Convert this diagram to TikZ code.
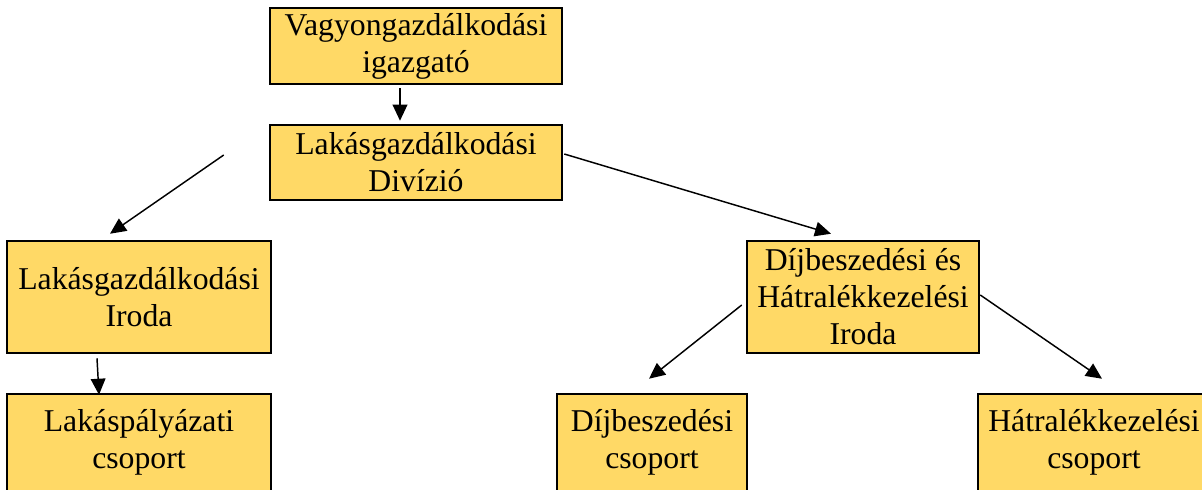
\documentclass[tikz,border=0pt]{standalone}
\usepackage{fontspec}
\setmainfont{Liberation Serif}
\newfontfamily\boxfont{Liberation Serif}
\usetikzlibrary{arrows.meta}
\definecolor{boxfill}{RGB}{255,217,102}

\begin{document}
\begin{tikzpicture}[x=0.75pt, y=-0.75pt,
    bx/.style={draw, line width=1.9pt, fill=boxfill, align=center, inner sep=0pt,
      font=\boxfont\fontsize{23.8}{27.75}\selectfont},
    ar/.style={-{Triangle[length=12pt,width=11pt]}, line width=1.1pt},]
  \useasboundingbox (0,0) rectangle (1202,489);
  \node [bx, minimum width=219pt, minimum height=57pt] (ig) at (416,46) {Vagyongazdálkodási\\igazgató};
  \node [bx, minimum width=219pt, minimum height=56.25pt] (div) at (416,162.5) {Lakásgazdálkodási\\Divízió};
  \node [bx, minimum width=198pt, minimum height=84pt] (li) at (139,297) {Lakásgazdálkodási\\Iroda};
  \node [bx, minimum width=174pt, minimum height=84pt] (di) at (863,297) {Díjbeszedési és\\Hátralékkezelési\\Iroda};
  \node [bx, minimum width=198pt, minimum height=72.75pt] (g1) at (139,442.5) {Lakáspályázati\\csoport};
  \node [bx, minimum width=142.5pt, minimum height=72.75pt] (g2) at (652,442.5) {Díjbeszedési\\csoport};
  \node [bx, minimum width=174pt, minimum height=72.75pt] (g3) at (1094,442.5) {Hátralékkezelési\\csoport};
  \draw [ar] ([shift={(-16,3)}]ig.south) -- ([shift={(-16,-3)}]div.north);
  \draw [ar] ([shift={(-45,-7.5)}]div.west) -- ([shift={(-29,-6)}]li.north);
  \draw [ar] ([shift={(1,-8.5)}]div.east) -- ([shift={(-32,-6)}]di.north);
  \draw [ar] ([shift={(-42,4)}]li.south) -- ([shift={(-40,2)}]g1.north);
  \draw [ar] ([shift={(-4,8)}]di.west) -- ([shift={(-3,-14)}]g2.north);
  \draw [ar] ([shift={(0,-2)}]di.east) -- ([shift={(8,-14)}]g3.north);
\end{tikzpicture}
\end{document}
